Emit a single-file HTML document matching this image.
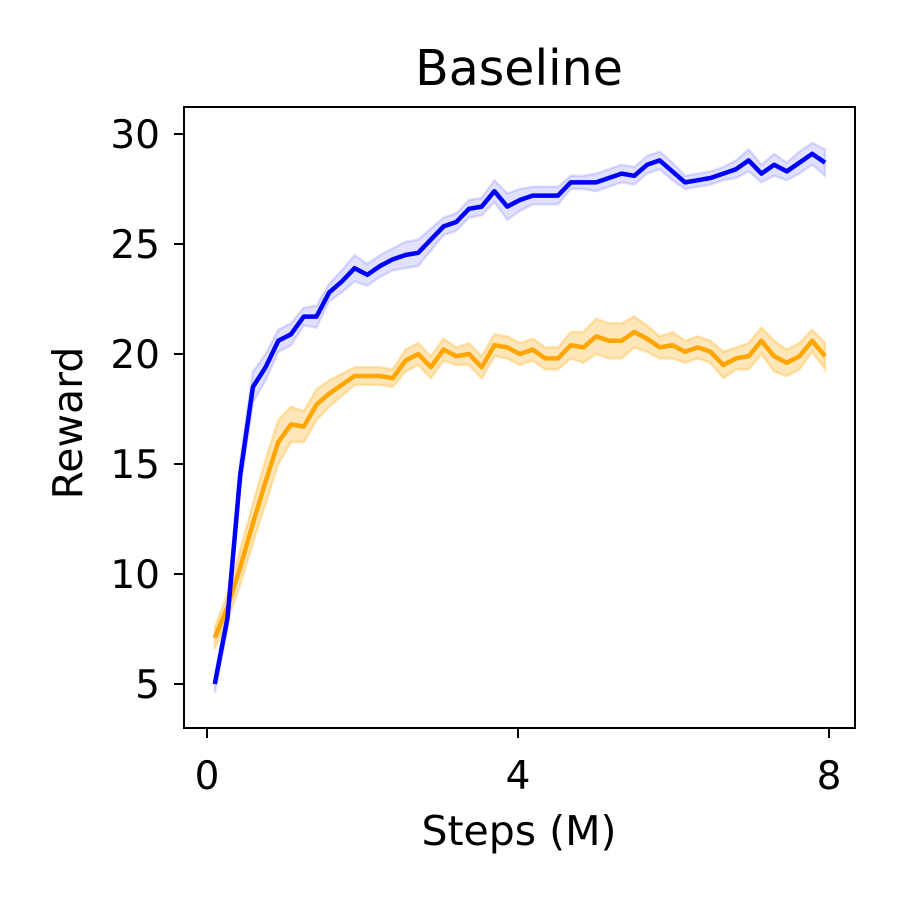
<!DOCTYPE html>
<html><head><meta charset="utf-8"><style>
html,body{margin:0;padding:0;background:#fff;}
svg text{font-family:"DejaVu Sans","Liberation Sans",sans-serif;fill:#000;}
</style></head><body>
<svg id="chart" width="900" height="900" viewBox="0 0 900 900" xmlns="http://www.w3.org/2000/svg">
<rect width="900" height="900" fill="#fff"/>
<g id="bands"></g>
<g id="lines"></g>
<rect x="184" y="107" width="671" height="621" fill="none" stroke="#000" stroke-width="2"/>
<g id="axes"></g>
<text x="519" y="85" style="font-size:49px" text-anchor="middle">Baseline</text>
<text x="519" y="845" style="font-size:41px" text-anchor="middle">Steps (M)</text>
<text x="0" y="0" style="font-size:41px" text-anchor="middle" transform="translate(82,423) rotate(-90)">Reward</text>
</svg>
<script>
const blueVals=[5.0,8.0,14.5,18.5,19.4,20.6,20.9,21.7,21.7,22.8,23.3,23.9,23.6,24.0,24.3,24.5,24.6,25.2,25.8,26.0,26.6,26.7,27.4,26.7,27.0,27.2,27.2,27.2,27.8,27.8,27.8,28.0,28.2,28.1,28.6,28.8,28.3,27.8,27.9,28.0,28.2,28.4,28.8,28.2,28.6,28.3,28.7,29.1,28.7];
const orangeVals=[7.1,8.5,10.3,12.3,14.2,16.0,16.8,16.7,17.7,18.2,18.6,19.0,19.0,19.0,18.9,19.7,20.0,19.4,20.2,19.9,20.0,19.4,20.4,20.3,20.0,20.2,19.8,19.8,20.4,20.3,20.8,20.6,20.6,21.0,20.7,20.3,20.4,20.1,20.3,20.1,19.5,19.8,19.9,20.6,19.9,19.6,19.9,20.6,19.9];
const blueErr=[0.4,0.5,0.6,0.7,0.6,0.5,0.5,0.4,0.5,0.4,0.5,0.6,0.5,0.5,0.5,0.6,0.6,0.5,0.4,0.4,0.4,0.4,0.5,0.6,0.5,0.4,0.4,0.4,0.3,0.3,0.4,0.4,0.4,0.4,0.4,0.4,0.4,0.3,0.3,0.3,0.3,0.4,0.5,0.4,0.5,0.4,0.5,0.5,0.6];
const orangeErr=[0.5,0.6,0.8,0.9,1.0,1.0,0.8,0.7,0.7,0.6,0.5,0.4,0.4,0.4,0.4,0.5,0.5,0.5,0.5,0.4,0.5,0.5,0.5,0.5,0.5,0.5,0.5,0.5,0.6,0.7,0.8,0.8,0.8,0.7,0.6,0.5,0.6,0.5,0.5,0.5,0.6,0.5,0.6,0.6,0.7,0.6,0.6,0.5,0.6];
const xStart=0.1, xStep=0.1635;
const xTicks=[0,4,8];
const yTicks=[5,10,15,20,25,30];
const NS='http://www.w3.org/2000/svg';
const xs=v=>207+77.75*v;
const ys=v=>684-22*(v-5);
function mk(tag,attrs,parent){const e=document.createElementNS(NS,tag);for(const k in attrs)e.setAttribute(k,attrs[k]);parent.appendChild(e);return e;}
const bands=document.getElementById('bands'),lines=document.getElementById('lines'),axes=document.getElementById('axes');
function series(vals,err,color,fill,op,name){
  const xsv=vals.map((_,i)=>xs(xStart+i*xStep));
  let up=vals.map((v,i)=>xsv[i].toFixed(1)+','+ys(v+err[i]).toFixed(1));
  let dn=vals.map((v,i)=>xsv[i].toFixed(1)+','+ys(v-err[i]).toFixed(1)).reverse();
  const b=mk('polygon',{points:up.concat(dn).join(' '),fill:fill,'fill-opacity':op,stroke:fill,'stroke-opacity':op,'stroke-width':2.5},bands);
  
  
  const l=mk('polyline',{points:vals.map((v,i)=>xsv[i].toFixed(1)+','+ys(v).toFixed(1)).join(' '),fill:'none',stroke:color,'stroke-width':4.5,'stroke-linejoin':'round'},lines);
  
  
}
series(orangeVals,orangeErr,'#ffa500','#ffa500',0.28,'orange-series');
series(blueVals,blueErr,'#0000ff','#0000ff',0.12,'blue-series');
xTicks.forEach(t=>{
  const tk=mk('line',{x1:xs(t),x2:xs(t),y1:728,y2:738,stroke:'#000','stroke-width':2},axes);
  
  
  const tx=mk('text',{x:xs(t),y:789,style:'font-size:39px','text-anchor':'middle'},axes);
  tx.textContent=t;
  
  
});
yTicks.forEach(t=>{
  const tk=mk('line',{x1:174,x2:184,y1:ys(t),y2:ys(t),stroke:'#000','stroke-width':2},axes);
  
  
  const tx=mk('text',{x:160,y:ys(t)+14,style:'font-size:39px','text-anchor':'end'},axes);
  tx.textContent=t;
  
  
});
</script>
</body></html>
